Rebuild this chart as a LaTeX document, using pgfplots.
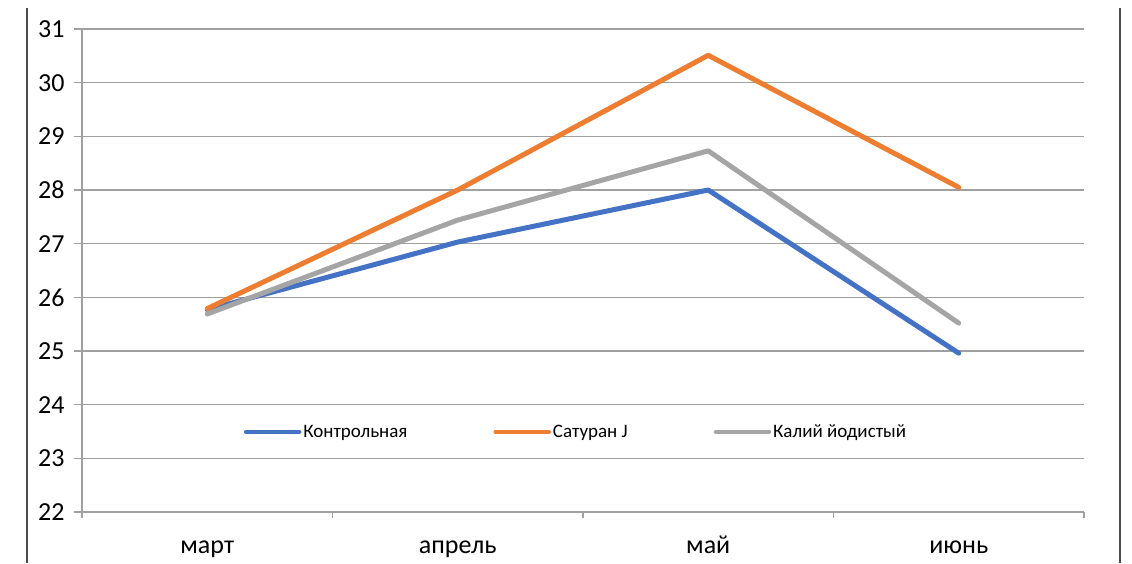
\documentclass[border=0pt]{standalone}
\usepackage{pgfplots}
\pgfplotsset{compat=1.18}
\usepackage{fontspec}
\setmainfont{Carlito}
\definecolor{cblue}{HTML}{4472C4}
\definecolor{corange}{HTML}{ED7D31}
\definecolor{cgray}{HTML}{A5A5A5}
\definecolor{gridc}{HTML}{A0A0A0}
\begin{document}
\begin{tikzpicture}
\path[use as bounding box] (-82pt,-51pt) rectangle (1050pt,512pt);
\draw[line width=1.8pt,color=black!70] (-55pt,-51pt) -- (-55pt,504pt);
\draw[line width=1.8pt,color=black!70] (1038pt,-51pt) -- (1038pt,504pt);
\begin{axis}[
  at={(0pt,0pt)}, anchor=south west,
  scale only axis, width=1002pt, height=483pt,
  xmin=-0.5, xmax=3.5, ymin=22, ymax=31,
  axis lines*=left,
  axis line style={gridc, line width=1.3pt},
  xtick={0,1,2,3},
  xticklabels={март,апрель,май,июнь},
  major x tick style={draw=none},
  minor xtick={-0.5,0.5,1.5,2.5,3.5},
  minor x tick style={gridc, line width=1.3pt},
  minor tick length=6pt,
  ytick={22,...,31},
  major tick length=8pt,
  tick align=outside,
  y tick style={gridc, line width=1.3pt},
  ymajorgrids,
  grid style={gridc, line width=1.3pt},
  /pgf/number format/assume math mode=true,
  tick label style={font=\fontsize{26}{28}\selectfont, text=black},
  xticklabel style={yshift=-12pt, text height=18pt, text depth=6pt},
  yticklabel style={xshift=-6pt},
  legend columns=3,
  legend style={at={(0.493,0.166)}, anchor=center, draw=none, fill=none,
    font=\fontsize{19}{21}\selectfont,
    /tikz/every even column/.append style={column sep=84pt}},
  legend image code/.code={\draw[#1, line width=4.5pt, line cap=round] (0pt,0pt) -- (53pt,0pt);},
  every axis plot/.append style={line width=5pt, line join=round, line cap=round, mark=none},
]
\addplot[cblue] coordinates {(0,25.77) (1,27.03) (2,28.0) (3,24.96)};
\addlegendentry{Контрольная}
\addplot[corange] coordinates {(0,25.79) (1,28.0) (2,30.51) (3,28.05)};
\addlegendentry{Сатуран J}
\addplot[cgray] coordinates {(0,25.69) (1,27.44) (2,28.73) (3,25.52)};
\addlegendentry{Калий йодистый}
\end{axis}
\end{tikzpicture}
\end{document}
